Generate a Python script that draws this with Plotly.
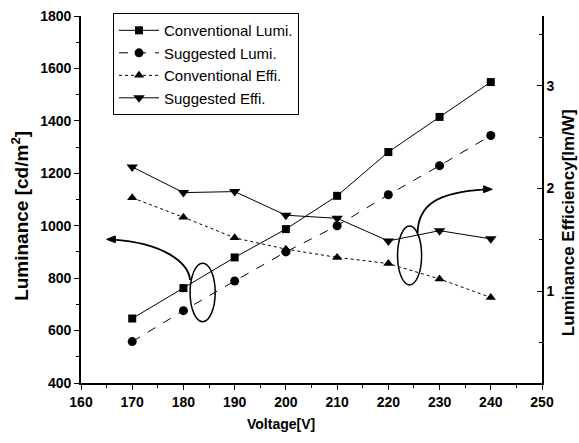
import plotly.graph_objects as go

# ---- data ----
voltage = [170, 180, 190, 200, 210, 220, 230, 240]
conv_lumi = [646, 762, 879, 987, 1114, 1281, 1415, 1548]
sugg_lumi = [558, 676, 789, 900, 1000, 1118, 1229, 1344]
conv_effi = [1.91, 1.72, 1.52, 1.41, 1.33, 1.27, 1.12, 0.94]
sugg_effi = [2.21, 1.96, 1.97, 1.74, 1.71, 1.49, 1.59, 1.51]

x_ticks = [160, 170, 180, 190, 200, 210, 220, 230, 240, 250]
y_ticks = [400, 600, 800, 1000, 1200, 1400, 1600, 1800]
y2_ticks = [1, 2, 3]

# decoration geometry (voltage, luminance units)
ellipse_left = (181.3, 186.2, 634, 857)
ellipse_right = (221.8, 226.5, 774, 999)
curve_left = "M 181.3,793 C 181,860 176,935 166.2,947"
curve_right = "M 225.7,971 C 225.8,1080 229.5,1128 239.0,1139"
head_left = "M 165.0,948 L 166.7,961 L 166.7,935 Z"
head_right = "M 240.3,1139 L 238.6,1152 L 238.6,1126 Z"

font_fam = "Arial, Liberation Sans, sans-serif"

fig = go.Figure()
fig.add_trace(go.Scatter(x=voltage, y=conv_lumi, name="Conventional Lumi.", mode="lines+markers",
                         line=dict(color="black", width=1, dash="solid"),
                         marker=dict(symbol="square", size=8, color="black"), legendgroup="a"))
fig.add_trace(go.Scatter(x=voltage, y=sugg_lumi, name="Suggested Lumi.", mode="lines+markers",
                         line=dict(color="black", width=1, dash="dash"),
                         marker=dict(symbol="circle", size=9, color="black"), legendgroup="b"))
fig.add_trace(go.Scatter(x=voltage, y=conv_effi, name="Conventional Effi.", mode="lines+markers",
                         line=dict(color="black", width=1, dash="dot"), yaxis="y2",
                         marker=dict(symbol="triangle-up", size=9, color="black"), legendgroup="c"))
fig.add_trace(go.Scatter(x=voltage, y=sugg_effi, name="Suggested Effi.", mode="lines+markers",
                         line=dict(color="black", width=1, dash="solid"), yaxis="y2",
                         marker=dict(symbol="triangle-down", size=10, color="black"), legendgroup="d"))

shapes = []
for (x0, x1, y0, y1) in (ellipse_left, ellipse_right):
    shapes.append(dict(type="circle", xref="x", yref="y", x0=x0, x1=x1, y0=y0, y1=y1,
                       line=dict(color="black", width=1.5)))
for p in (curve_left, curve_right):
    shapes.append(dict(type="path", xref="x", yref="y", path=p, line=dict(color="black", width=1.8)))
for p in (head_left, head_right):
    shapes.append(dict(type="path", xref="x", yref="y", path=p, fillcolor="black",
                       line=dict(color="black", width=1)))

annotations = [
    dict(x=0.434, y=-0.112, xref="paper", yref="paper", text="<b>Voltage[V]</b>", showarrow=False,
         xanchor="center", yanchor="middle", font=dict(family=font_fam, size=14, color="black")),
    dict(x=-0.134, y=0.456, xref="paper", yref="paper", text="<b>Luminance [cd/m<sup>2</sup>]</b>",
         showarrow=False, textangle=-90, xanchor="center", yanchor="middle",
         font=dict(family=font_fam, size=19, color="black")),
    dict(x=1.0575, y=0.437, xref="paper", yref="paper", text="<b>Luminance Efficiency[lm/W]</b>",
         showarrow=False, textangle=-90, xanchor="center", yanchor="middle",
         font=dict(family=font_fam, size=17, color="black")),
]

tickfont = dict(family=font_fam, size=14, color="black")

fig.update_layout(
    width=579, height=443,
    margin=dict(l=81, r=37, t=16, b=60, autoexpand=False),
    paper_bgcolor="white", plot_bgcolor="white",
    showlegend=True,
    legend=dict(x=0.0694, y=1.008, xanchor="left", yanchor="top", bgcolor="white",
                bordercolor="black", borderwidth=1, tracegroupgap=0, itemwidth=40,
                font=dict(family=font_fam, size=15, color="black")),
    xaxis=dict(range=[160, 250], tickvals=x_ticks, ticktext=[f"<b>{v}</b>" for v in x_ticks],
               ticks="outside", ticklen=5, tickwidth=1.2,
               tickcolor="black", showline=True, linecolor="black", linewidth=1.6,
               showgrid=False, zeroline=False, tickfont=tickfont, automargin=False,
               minor=dict(ticks="outside", dtick=5, tick0=160, ticklen=3, tickcolor="black", showgrid=False)),
    yaxis=dict(range=[400, 1800], tickvals=y_ticks, ticktext=[f"<b>{v}</b>" for v in y_ticks],
               ticks="outside", ticklen=5, tickwidth=1.2,
               tickcolor="black", showline=True, linecolor="black", linewidth=1.6,
               showgrid=False, zeroline=False, tickfont=tickfont, automargin=False,
               minor=dict(ticks="outside", dtick=100, tick0=400, ticklen=3, tickcolor="black", showgrid=False)),
    yaxis2=dict(range=[0.108, 3.678], overlaying="y", side="right", tickvals=y2_ticks,
                ticktext=[f"<b>{v}</b>" for v in y2_ticks],
                ticks="inside", ticklen=5, tickwidth=1.2, tickcolor="black",
                showline=True, linecolor="black", linewidth=1.6, showgrid=False, zeroline=False,
                tickfont=tickfont, automargin=False,
                minor=dict(ticks="inside", dtick=0.5, tick0=0, ticklen=3, tickcolor="black", showgrid=False)),
    shapes=shapes,
    annotations=annotations,
)

fig.write_html("out.html", config={"displayModeBar": False},
               post_script="document.body.style.margin='0';document.body.style.overflow='hidden';")
